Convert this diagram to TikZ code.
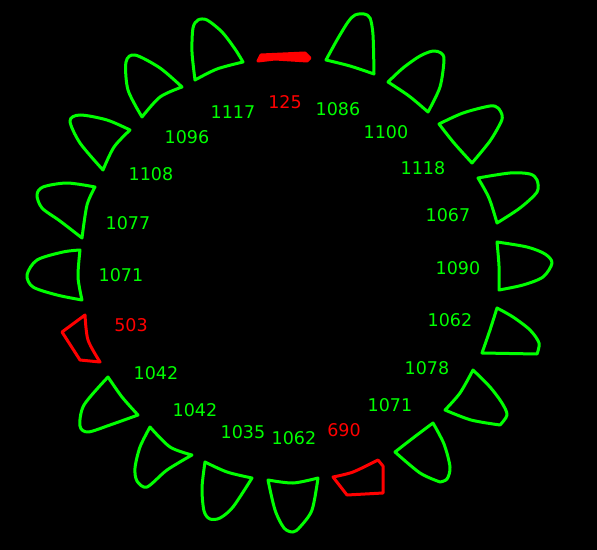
\documentclass[tikz,border=0pt]{standalone}
\usepackage{fontspec}
\setsansfont{DejaVu Sans}
\usepackage{tikz}
\definecolor{okgreen}{RGB}{0,255,0}
\definecolor{badred}{RGB}{255,0,0}

\begin{document}
\begin{tikzpicture}[x=1bp,y=-1bp,font=\sffamily\fontsize{17.5bp}{20bp}\selectfont,
 gt/.style={draw=okgreen,line width=3bp,line join=round},
 rt/.style={draw=badred,line width=3bp,line join=round},
 lbl/.style={inner sep=0pt,anchor=center}]
 \fill[black] (0,0) rectangle (597,550);
 \useasboundingbox (0,0) rectangle (597,550);
 \draw[gt] plot[smooth] coordinates {(195,80) (192,52) (193,28) (198,20) (207,20) (222,32) (235,49) (243,62)} -- plot[smooth] coordinates {(243,62) (217,69) (195,80)} -- cycle;
 \draw[rt,fill=badred] (258,61) -- (261,55) -- (305,53) -- (310,58) -- (307,61) -- (275,59) -- cycle;
 \draw[gt] plot[smooth] coordinates {(326,60) (337,40) (348,22) (355,15) (364,14) (370,18) (373,35) (374,74)} -- plot[smooth] coordinates {(374,74) (350,66) (326,60)} -- cycle;
 \draw[gt] plot[smooth] coordinates {(388,82) (403,68) (420,56) (433,51) (441,53) (444,60) (440,87) (428,112)} -- plot[smooth] coordinates {(428,112) (409,96) (388,82)} -- cycle;
 \draw[gt] plot[smooth] coordinates {(439,124) (463,113) (490,106) (498,108) (502,115) (501,122) (490,141) (472,163)} -- plot[smooth] coordinates {(472,163) (454,143) (439,124)} -- cycle;
 \draw[gt] plot[smooth] coordinates {(478,178) (510,173) (530,174) (537,180) (537,192) (520,208) (497,223)} -- plot[smooth] coordinates {(497,223) (489,198) (478,178)} -- cycle;
 \draw[gt] plot[smooth] coordinates {(497,242) (527,247) (545,254) (552,263) (543,277) (523,285) (499,290)} -- plot[smooth] coordinates {(499,290) (499,266) (497,242)} -- cycle;
 \draw[gt] plot[smooth] coordinates {(482,353) (490,330) (497,308)} -- plot[smooth] coordinates {(497,308) (513,317) (530,330) (539,343) (537,354)} -- cycle;
 \draw[gt] plot[smooth] coordinates {(445,410) (460,393) (473,370)} -- plot[smooth] coordinates {(473,370) (490,387) (502,403) (507,415) (500,425)} -- plot[smooth] coordinates {(500,425) (471,420) (445,410)} -- cycle;
 \draw[gt] plot[smooth] coordinates {(395,452) (413,438) (433,423)} -- plot[smooth] coordinates {(433,423) (444,444) (450,467) (447,479) (440,482)} -- plot[smooth] coordinates {(440,482) (420,473) (395,452)} -- cycle;
 \draw[rt] plot[smooth] coordinates {(333,477) (353,472) (378,460)} -- (383,466) -- (383,493) -- (347,495) -- cycle;
 \draw[gt] plot[smooth] coordinates {(268,480) (293,483) (318,478)} -- plot[smooth] coordinates {(318,478) (312,510) (300,527) (293,532) (284,528) (275,510) (268,480)} -- cycle;
 \draw[gt] plot[smooth] coordinates {(205,462) (227,472) (252,478)} -- plot[smooth] coordinates {(252,478) (233,507) (220,518) (210,519) (204,511) (202,488) (205,462)} -- cycle;
 \draw[gt] plot[smooth] coordinates {(150,427) (170,447) (192,455)} -- plot[smooth] coordinates {(192,455) (167,470) (147,487) (137,481) (135,468) (140,447) (150,427)} -- cycle;
 \draw[gt] plot[smooth] coordinates {(108,377) (122,397) (138,415)} -- plot[smooth] coordinates {(138,415) (110,425) (88,432) (80,426) (84,405) (108,377)} -- cycle;
 \draw[rt] (62,332) -- (85,315) -- plot[smooth] coordinates {(85,315) (88,340) (100,362)} -- (80,360) -- cycle;
 \draw[gt] plot[smooth] coordinates {(80,250) (63,252) (37,260) (27,275) (33,287) (57,295) (82,300)} -- plot[smooth] coordinates {(82,300) (78,277) (80,250)} -- cycle;
 \draw[gt] plot[smooth] coordinates {(82,238) (60,221) (42,208) (37,195) (43,187) (67,183) (95,187)} -- plot[smooth] coordinates {(95,187) (87,205) (82,238)} -- cycle;
 \draw[gt] plot[smooth] coordinates {(103,170) (80,143) (70,121) (80,115) (107,120) (130,130)} -- plot[smooth] coordinates {(130,130) (114,147) (103,170)} -- cycle;
 \draw[gt] plot[smooth] coordinates {(142,117) (128,90) (126,62) (135,55) (160,68) (182,87)} -- plot[smooth] coordinates {(182,87) (160,97) (142,117)} -- cycle;
 \foreach \x/\y/\t/\c [count=\i] in {285/102/125/badred,338/109/1086/okgreen,386/132/1100/okgreen,
   423/168/1118/okgreen,448/215/1067/okgreen,458/268/1090/okgreen,450/320/1062/okgreen,
   427/368/1078/okgreen,390/405/1071/okgreen,344/430/690/badred,294/438/1062/okgreen,
   243/432/1035/okgreen,195/410/1042/okgreen,156/373/1042/okgreen,131/325/503/badred,
   121/275/1071/okgreen,128/223/1077/okgreen,151/174/1108/okgreen,187/137/1096/okgreen,
   233/112/1117/okgreen}
   \node[lbl,text=\c] (lab\i) at (\x,\y) {\t};
\end{tikzpicture}
\end{document}
